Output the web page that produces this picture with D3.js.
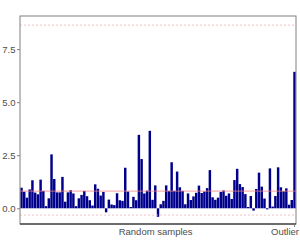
<!DOCTYPE html>
<html>
<head>
<meta charset="utf-8">
<script src="https://cdn.jsdelivr.net/npm/d3@7"></script>
<style>
  body { margin: 0; background: #fff; }
  svg { display: block; font-family: "Liberation Sans", Arial, sans-serif; }
</style>
</head>
<body>
<div id="app"></div>
<script>
// 100 random samples
const randomValues = [
  0.97, 0.78, 0.5, 0.89, 1.32, 0.74, 0.66, 1.35, 0.82, 0.1,
  0.47, 2.54, 1.38, 0.75, 0.75, 1.48, 0.31, 0.75, 0.85, 0.7,
  0.1, 0.47, 0.63, 0.82, 0.57, 0.38, 0.13, 1.13, 0.92, 0.6,
  0.77, -0.19, 0.41, 0.18, 0.15, 0.71, 0.38, 0.35, 1.91, 0.79,
  0.06, 0.54, 0.38, 3.46, 2.32, 0.7, 0.83, 3.65, 0.4, 1.08,
  -0.4, 0.19, 0.35, 1.08, 0.82, 2.17, 0.82, 1.73, 0.99, 0.82,
  0.19, 0.7, 0.39, 0.56, 0.73, 1.07, 0.72, 0.79, 0.95, 1.8,
  0.52, 0.4, 0.5, 0.77, 0.84, 0.59, 0.7, 0.44, 1.33, 1.86,
  1.14, 1.0, 0.67, 0.06, 0.58, -0.11, 0.91, 1.68, 1.02, 0.46,
  -0.05, 1.88, 0.08, 0.58, 1.93, 0.99, 0.8, 0.94, 0.17, 0.39
];
const outlierValue = 6.43;
const groupLabels = ["Random samples", "Outlier"];
const yTicks = [0, 2.5, 5, 7.5];
const meanLine = 0.81;
const limitLines = [8.63, -0.32];

const values = randomValues.concat([outlierValue]);
const ids = values.map((v, i) => i);

const width = 300, height = 250;
const margin = { top: 16, right: 4, bottom: 26, left: 20 };

const svg = d3.select("#app").append("svg")
  .attr("width", width)
  .attr("height", height);

const x = d3.scaleBand()
  .domain(ids)
  .range([margin.left, width - margin.right])
  .paddingInner(0.1)
  .paddingOuter(0.1);

const y = d3.scaleLinear()
  .domain([-0.74, 9.06])
  .range([height - margin.bottom, margin.top]);

// バー
svg.selectAll("rect.bar")
  .data(values)
  .enter()
  .append("rect")
  .attr("class", "bar")
  .attr("x", (d, i) => x(i))
  .attr("width", x.bandwidth())
  .attr("y", d => y(Math.max(0, d)))
  .attr("height", d => Math.abs(y(d) - y(0)))
  .attr("fill", "#00008b");

// 参照線（バーの上に描く）
svg.append("line")
  .attr("x1", margin.left).attr("x2", width - margin.right)
  .attr("y1", y(meanLine)).attr("y2", y(meanLine))
  .attr("stroke", "#f08080")
  .attr("stroke-opacity", 0.75)
  .attr("stroke-width", 1);

svg.selectAll("line.limit")
  .data(limitLines)
  .enter()
  .append("line")
  .attr("class", "limit")
  .attr("x1", margin.left).attr("x2", width - margin.right)
  .attr("y1", d => y(d)).attr("y2", d => y(d))
  .attr("stroke", "#f0b4b4")
  .attr("stroke-width", 0.8)
  .attr("stroke-dasharray", "2,2");

// 枠線
svg.append("rect")
  .attr("x", margin.left)
  .attr("y", margin.top)
  .attr("width", width - margin.left - margin.right)
  .attr("height", height - margin.top - margin.bottom)
  .attr("fill", "none")
  .attr("stroke", "#808080")
  .attr("stroke-width", 1);

svg.append("line")
  .attr("x1", margin.left).attr("x2", width - margin.right)
  .attr("y1", height - margin.bottom).attr("y2", height - margin.bottom)
  .attr("stroke", "#1a1a1a")
  .attr("stroke-width", 1.2);

// y軸
const yAxis = svg.append("g")
  .attr("transform", `translate(${margin.left},0)`)
  .call(d3.axisLeft(y).tickValues(yTicks).tickFormat(d3.format(".1f")).tickSize(3).tickPadding(1.5));
yAxis.select(".domain").remove();
yAxis.selectAll(".tick line").attr("stroke", "#808080");
yAxis.selectAll(".tick text")
  .attr("fill", "#4d4d4d")
  .style("font-size", "9.5px");

// x軸ラベル
const lastId = ids[ids.length - 1];
const randomCenter = (x(0) + x(lastId - 1) + x.bandwidth()) / 2;
const outlierX = x(lastId) + x.bandwidth() / 2;

svg.append("line")
  .attr("x1", outlierX).attr("x2", outlierX)
  .attr("y1", height - margin.bottom).attr("y2", height - margin.bottom + 3)
  .attr("stroke", "#808080");

svg.append("text")
  .attr("x", randomCenter - 1)
  .attr("y", 235)
  .attr("text-anchor", "middle")
  .attr("fill", "#4d4d4d")
  .style("font-size", "9.5px")
  .text(groupLabels[0]);

svg.append("text")
  .attr("x", Math.min(outlierX + 5, width - 1))
  .attr("y", 235)
  .attr("text-anchor", "end")
  .attr("fill", "#4d4d4d")
  .style("font-size", "9.5px")
  .text(groupLabels[1]);
</script>
</body>
</html>
